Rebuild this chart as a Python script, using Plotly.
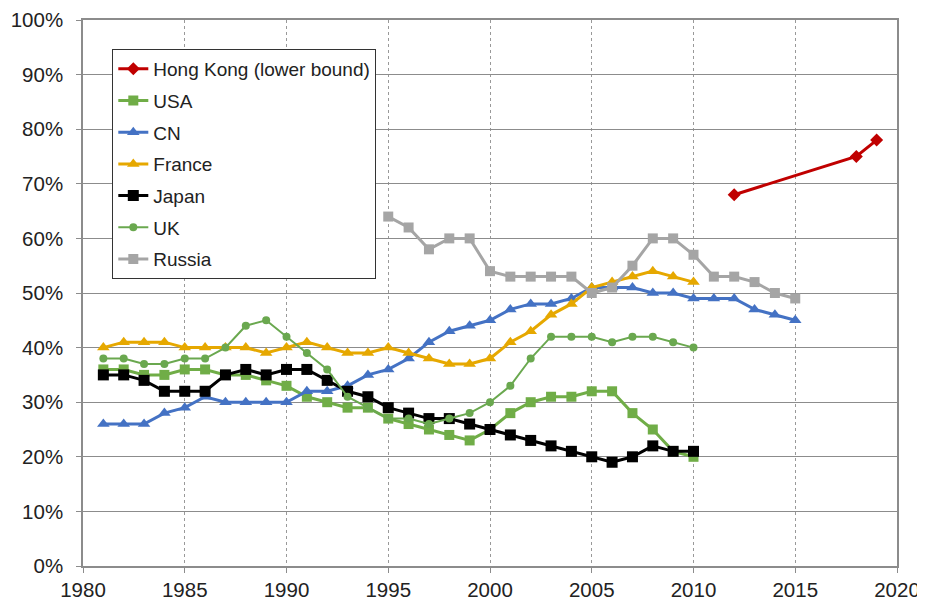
import plotly.graph_objects as go

years_hk = [2012, 2018, 2019]
hk = [68, 75, 78]

years_81_10 = list(range(1981, 2011))
usa = [36, 36, 35, 35, 36, 36, 35, 35, 34, 33, 31, 30, 29, 29, 27, 26, 25, 24, 23, 25,
       28, 30, 31, 31, 32, 32, 28, 25, 21, 20]
france = [40, 41, 41, 41, 40, 40, 40, 40, 39, 40, 41, 40, 39, 39, 40, 39, 38, 37, 37, 38,
          41, 43, 46, 48, 51, 52, 53, 54, 53, 52]
japan = [35, 35, 34, 32, 32, 32, 35, 36, 35, 36, 36, 34, 32, 31, 29, 28, 27, 27, 26, 25,
         24, 23, 22, 21, 20, 19, 20, 22, 21, 21]
uk = [38, 38, 37, 37, 38, 38, 40, 44, 45, 42, 39, 36, 31, 29, 27, 27, 26, 27, 28, 30,
      33, 38, 42, 42, 42, 41, 42, 42, 41, 40]

years_cn = list(range(1981, 2016))
cn = [26, 26, 26, 28, 29, 31, 30, 30, 30, 30, 32, 32, 33, 35, 36, 38, 41, 43, 44, 45,
      47, 48, 48, 49, 51, 51, 51, 50, 50, 49, 49, 49, 47, 46, 45]

years_ru = list(range(1995, 2016))
russia = [64, 62, 58, 60, 60, 54, 53, 53, 53, 53, 50, 51, 55, 60, 60, 57, 53, 53, 52, 50, 49]

x_ticks = [1980, 1985, 1990, 1995, 2000, 2005, 2010, 2015, 2020]
y_ticks = [0, 10, 20, 30, 40, 50, 60, 70, 80, 90, 100]
y_labels = [f"{v}%" for v in y_ticks]

series = [
    ("Hong Kong (lower bound)", years_hk, hk, "#C00000", "diamond", 10, 3),
    ("USA", years_81_10, usa, "#70AD47", "square", 10, 3),
    ("CN", years_cn, cn, "#4472C4", "triangle-up", 11, 3),
    ("France", years_81_10, france, "#E6A800", "triangle-up", 11, 3),
    ("Japan", years_81_10, japan, "#000000", "square", 11, 3),
    ("UK", years_81_10, uk, "#6AA84F", "circle", 8, 2),
    ("Russia", years_ru, russia, "#A5A5A5", "square", 10, 3),
]

fig = go.Figure()
for i, (name, xs, ys, color, sym, msize, lw) in enumerate(series):
    fig.add_trace(go.Scatter(
        x=xs, y=ys, name=name, mode="lines+markers",
        line=dict(color=color, width=lw),
        marker=dict(color=color, symbol=sym, size=msize),
        legendgroup=f"g{i}",
        hoverinfo="skip",
    ))

grid_col = "#8C8C8C"
fig.update_layout(
    width=917, height=598,
    margin=dict(l=75, r=28, t=12, b=40),
    paper_bgcolor="white", plot_bgcolor="white",
    font=dict(family="Liberation Sans, Arial, sans-serif", size=20.5, color="#222222"),
    showlegend=True,
    legend=dict(
        x=0.036, y=0.947, xanchor="left", yanchor="top",
        bgcolor="white", bordercolor="#333333", borderwidth=1,
        font=dict(size=19, color="#222222"),
        traceorder="grouped", tracegroupgap=4,
    ),
    xaxis=dict(
        range=[1980, 2020], tickvals=x_ticks, ticktext=[str(v) for v in x_ticks],
        showgrid=True, gridcolor="#999999", griddash="dot", gridwidth=1,
        showline=True, linecolor=grid_col, linewidth=1.5, mirror=True,
        ticks="outside", ticklen=5, tickcolor=grid_col,
        zeroline=False, fixedrange=True, automargin=False,
    ),
    yaxis=dict(
        range=[0, 100], tickvals=y_ticks, ticktext=y_labels,
        showgrid=True, gridcolor=grid_col, gridwidth=1.2,
        showline=True, linecolor=grid_col, linewidth=1.5, mirror=True,
        ticks="outside", ticklen=5, tickcolor=grid_col, ticklabelstandoff=9,
        zeroline=False, fixedrange=True, automargin=False,
    ),
)

fig.write_html("out.html")
